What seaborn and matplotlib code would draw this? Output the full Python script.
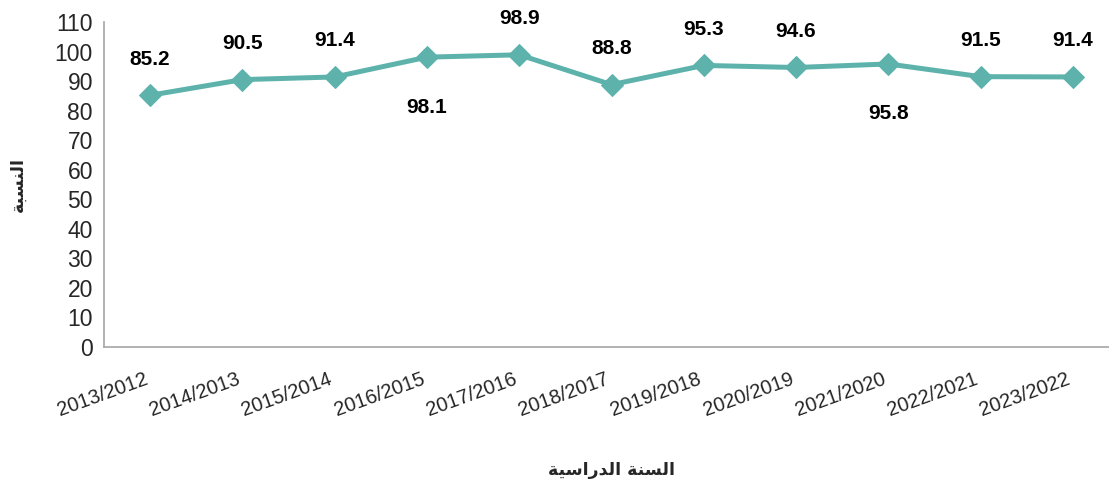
import matplotlib
matplotlib.use("Agg")
from matplotlib import pyplot as plt
import numpy as np
import pandas as pd
import seaborn as sns

sns.set_style('white')
plt.rcParams['font.family'] = ['Liberation Sans', 'DejaVu Sans']

# data
years = ["2013/2012", "2014/2013", "2015/2014", "2016/2015", "2017/2016", "2018/2017",
         "2019/2018", "2020/2019", "2021/2020", "2022/2021", "2023/2022"]
ratio = [85.2, 90.5, 91.4, 98.1, 98.9, 88.8, 95.3, 94.6, 95.8, 91.5, 91.4]
label_below = [False, False, False, True, False, False, False, False, True, False, False]

# Arabic text written in presentation forms, in visual (left-to-right) order
x_title = "السنة الدراسية"
y_title = "النسبة"
x_title_shaped = "\uFE8D\uFEDF\uFEB4\uFEE8\uFE94 \uFE8D\uFEDF\uFEAA\uFEAD\uFE8D\uFEB3\uFEF4\uFE94"[::-1]
y_title_shaped = "\uFE8D\uFEDF\uFEE8\uFEB4\uFE92\uFE94"[::-1]

df = pd.DataFrame({"year": years, "ratio": ratio})
pos = np.arange(len(years))
teal = '#5DB3AC'

fig = plt.figure(figsize=(11.09, 4.86), dpi=100)
ax = fig.add_axes([104 / 1109, 139 / 486, 1015 / 1109, 325 / 486])

sns.lineplot(x=pos, y=df["ratio"], ax=ax, color=teal, linewidth=3.6,
             marker='D', markersize=11, markeredgecolor=teal, markerfacecolor=teal)

for i, v in enumerate(ratio):
    off = -36 if label_below[i] else 26
    ax.annotate(f"{v:.1f}", (pos[i], v), xytext=(0, off), textcoords='offset points',
                ha='center', va='center', fontsize=15, fontweight='bold', color='black')

ax.set_xlim(-0.5, len(years) - 0.5)
ax.set_ylim(0, 110)
ax.set_yticks(range(0, 111, 10))
# labels sit a touch left of the point centres, as in the original
ax.set_xticks(pos - 0.07)
ax.set_xticklabels(years, rotation=20, ha='right', rotation_mode='anchor', fontsize=14.5)
ax.set_xticks(np.arange(-0.5, len(years), 1), minor=True)
ax.tick_params(axis='x', which='major', length=0, pad=16)
ax.tick_params(axis='x', which='minor', length=5, color='#A6A6A6', width=1.2, direction='out')
ax.tick_params(axis='y', length=5, color='#A6A6A6', width=1.2, direction='out', labelsize=16.5, pad=3)

for side in ['top', 'right']:
    ax.spines[side].set_visible(False)
for side in ['left', 'bottom']:
    ax.spines[side].set_color('#A6A6A6')
    ax.spines[side].set_linewidth(1.2)

ax.set_xlabel("")
ax.set_ylabel("")
fig.text((104 + 1015 / 2) / 1109, 1 - 470 / 486, x_title_shaped, ha='center', va='center',
         fontsize=12.5, fontweight='bold', family=['DejaVu Sans'])
fig.text(18 / 1109, 1 - 185 / 486, y_title_shaped, ha='center', va='center', rotation=90,
         fontsize=12.5, fontweight='bold', family=['DejaVu Sans'])

fig.savefig("out.png", dpi=100)
